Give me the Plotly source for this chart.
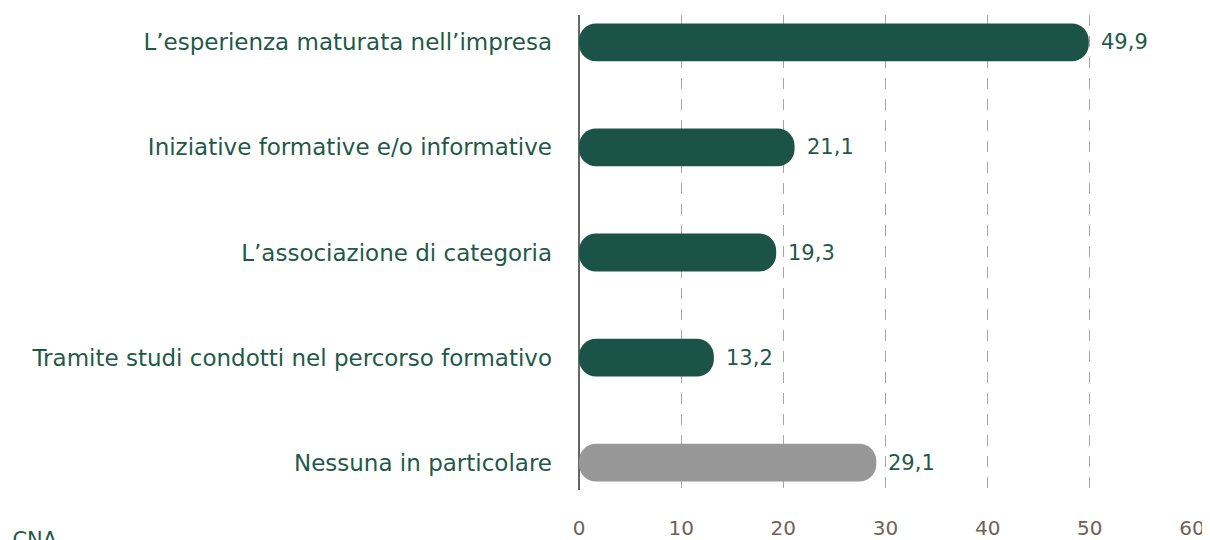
import plotly.graph_objects as go

categories = [
    "L’esperienza maturata nell’impresa",
    "Iniziative formative e/o informative",
    "L’associazione di categoria",
    "Tramite studi condotti nel percorso formativo",
    "Nessuna in particolare",
]
values = [49.9, 21.1, 19.3, 13.2, 29.1]
labels = ["49,9", "21,1", "19,3", "13,2", "29,1"]
bar_colors = ["#1b5446", "#1b5446", "#1b5446", "#1b5446", "#979797"]
x_ticks = [0, 10, 20, 30, 40, 50, 60]
source_text = "Fonte: CNA"

GREEN_TEXT = "#1f5a48"
FONT = "DejaVu Sans"

# page body adds an 8px offset; sizes below are in figure coordinates
W, H = 1202, 532
L, T = 571, 7
PW, PH = 613, 475
R, B = W - L - PW, H - T - PH

fig = go.Figure()
fig.add_trace(go.Bar(
    y=categories, x=values, base=[0] * len(values), orientation="h",
    marker=dict(color=bar_colors, cornerradius=17, line=dict(width=0)),
    width=0.36, hoverinfo="skip", showlegend=False,
))

for c, v, t in zip(categories, values, labels):
    fig.add_annotation(x=v, y=c, text=t, showarrow=False, xanchor="left",
                       xshift=10, font=dict(family=FONT, size=21, color=GREEN_TEXT))

fig.add_annotation(xref="paper", yref="paper", x=(60 - 8 - L) / PW, y=-(540 - 8 - (T + PH)) / PH,
                   text=source_text, showarrow=False, xanchor="right", yanchor="middle",
                   font=dict(family=FONT, size=21, color=GREEN_TEXT))

fig.update_layout(
    width=W, height=H,
    margin=dict(l=L, r=R, t=T, b=B, autoexpand=False),
    barmode="overlay",
    plot_bgcolor="white", paper_bgcolor="white",
    font=dict(family=FONT),
)
fig.update_xaxes(
    range=[0, 60], tickvals=x_ticks, ticktext=[str(t) for t in x_ticks],
    showgrid=True, gridcolor="#a6a6a6", gridwidth=1.3, griddash="11px,10px",
    zeroline=True, zerolinecolor="#666666", zerolinewidth=2,
    showline=False, ticks="", ticklabelstandoff=24, automargin=False,
    tickfont=dict(family=FONT, size=20, color="#6e6259"),
)
fig.update_yaxes(
    autorange=False, range=[4.26, -0.26],
    showgrid=False, zeroline=False, showline=False, ticks="",
    ticklabelstandoff=26, automargin=False,
    tickfont=dict(family=FONT, size=23, color=GREEN_TEXT),
)

fig.write_html("out.html")
